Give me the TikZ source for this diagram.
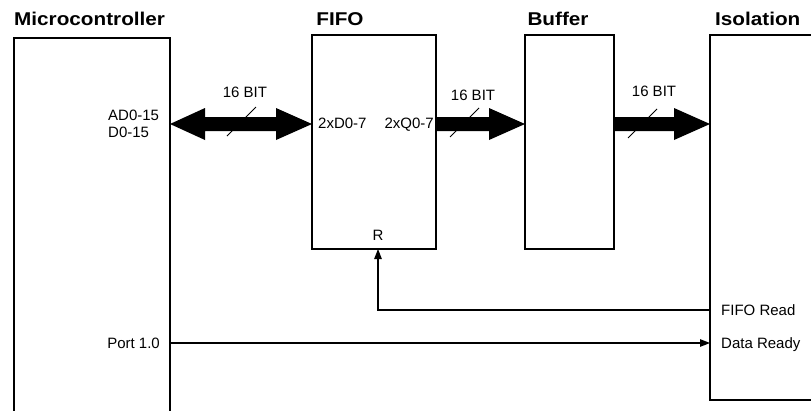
\documentclass[tikz,border=0pt]{standalone}
\usepackage{fontspec}
\setmainfont{Liberation Sans}
\newfontfamily\titlefont{Liberation Sans}[FakeStretch=1.12]
\usetikzlibrary{arrows.meta,calc}
\newcommand\busone[2]{%
  \fill let \p1=(#1), \p2=(#2) in
    (\x1,\y1+7pt) -- (\x2-36pt,\y1+7pt) -- (\x2-36pt,\y1+16pt) -- (\x2,\y1)
    -- (\x2-36pt,\y1-16pt) -- (\x2-36pt,\y1-7pt) -- (\x1,\y1-7pt) -- cycle;}
\newcommand\bustwo[2]{%
  \fill let \p1=(#1), \p2=(#2) in
    (\x1,\y1) -- (\x1+35pt,\y1+16pt) -- (\x1+35pt,\y1+7pt) -- (\x2-36pt,\y1+7pt)
    -- (\x2-36pt,\y1+16pt) -- (\x2,\y1) -- (\x2-36pt,\y1-16pt) -- (\x2-36pt,\y1-7pt)
    -- (\x1+35pt,\y1-7pt) -- (\x1+35pt,\y1-16pt) -- cycle;}
\begin{document}
\begin{tikzpicture}[x=1pt,y=-1pt,
  box/.style={draw,line width=1.1pt,anchor=north west,inner sep=0pt,outer sep=0pt},
  title/.style={font=\titlefont\fontsize{18.5}{20}\selectfont\bfseries,inner sep=0pt},
  lbl/.style={font=\fontsize{15}{17}\selectfont,inner sep=0pt},
  sig/.style={line width=1.2pt,-{Triangle[length=10pt,width=7.5pt]}},
  slash/.style={line width=1pt}]
\useasboundingbox (0,0) rectangle (811,410);
\clip (0,0) rectangle (811,410);

% boxes
\node[box,minimum width=156pt,minimum height=400pt] (micro) at (14,38) {};
\node[box,minimum width=124pt,minimum height=214pt] (fifo) at (312,35) {};
\node[box,minimum width=89pt,minimum height=214pt] (buf) at (525,35) {};
\node[box,minimum width=130pt,minimum height=365pt] (iso) at (710,35) {};

% titles
\node[title,anchor=base west] (tmicro) at (14,25) {Microcontroller};
\node[title,anchor=base] (tfifo) at (340,25) {FIFO};
\node[title,anchor=base] (tbuf) at (558,25) {Buffer};
\node[title,anchor=base west] (tiso) at (715,25) {Isolation};

% labels
\node[lbl,anchor=base west] (ad) at (108,120.5) {AD0-15};
\node[lbl,anchor=base west] (d) at (108,137) {D0-15};
\node[lbl,anchor=base west] (fd) at (318,128.5) {2xD0-7};
\node[lbl,anchor=base east] (fq) at (434,128.5) {2xQ0-7};
\node[lbl,anchor=base] (b1) at (245,97.5) {16 BIT};
\node[lbl,anchor=base] (b2) at (473,100) {16 BIT};
\node[lbl,anchor=base] (b3) at (654,96) {16 BIT};
\node[lbl,anchor=base] (rl) at (378,240) {R};
\node[lbl,anchor=base west] (frd) at (721,315.5) {FIFO Read};
\node[lbl,anchor=base west] (drd) at (721,348) {Data Ready};
\node[lbl,anchor=base east] (port) at (160,348) {Port 1.0};

% bus lines
\coordinate (busy) at (0,124);
\bustwo{micro.east |- busy}{fifo.west |- busy}
\busone{fifo.east |- busy}{buf.west |- busy}
\busone{buf.east |- busy}{iso.west |- busy}
\draw[slash] (227,136) -- (256,107);
\draw[slash] (450,137) -- (479,108);
\draw[slash] (628,138) -- (657,109);

% control signals
\coordinate (fry) at (0,310);
\coordinate (dry) at (0,343);
\draw[sig] (iso.west |- fry) -| (rl.center |- fifo.south);
\draw[sig] (micro.east |- dry) -- (iso.west |- dry);
\end{tikzpicture}
\end{document}
